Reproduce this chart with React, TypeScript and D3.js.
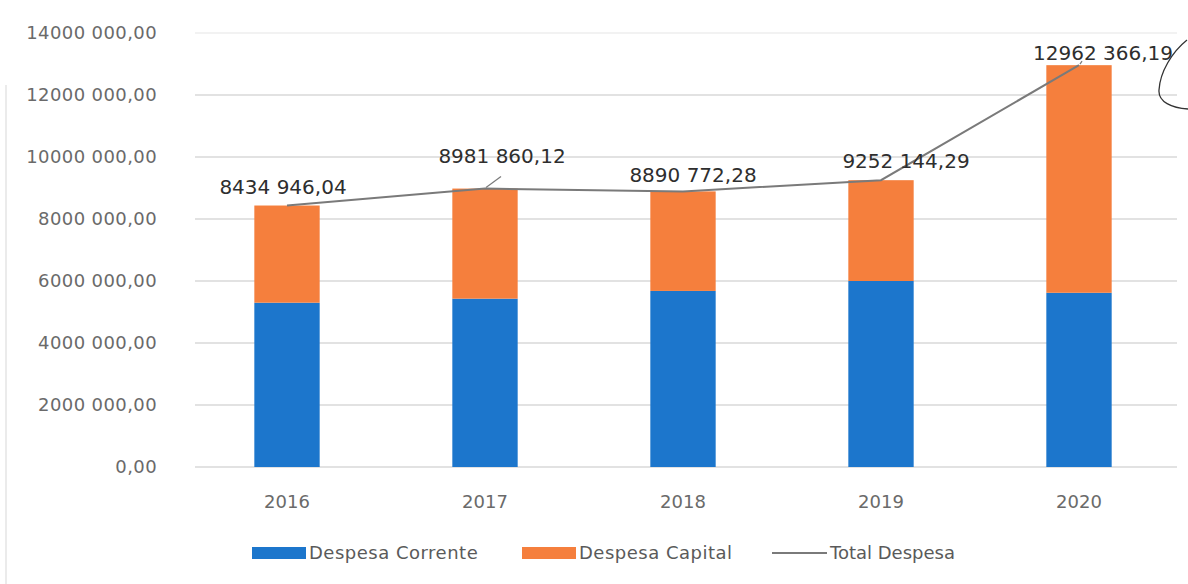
import * as d3 from 'd3';

// ── Data ─────────────────────────────────────────────
const years = ['2016', '2017', '2018', '2019', '2020'];
const corrente = [5300000, 5430000, 5680000, 6000000, 5620000];
const capital = [3134946.04, 3551860.12, 3210772.28, 3252144.29, 7342366.19];
const totals = [8434946.04, 8981860.12, 8890772.28, 9252144.29, 12962366.19];
const yTicks = [0, 2000000, 4000000, 6000000, 8000000, 10000000, 12000000, 14000000];
const legendItems = ['Despesa Corrente', 'Despesa Capital', 'Total Despesa'];

// label offset from its point (dx, baseline dy) and optional leader end (lx, ly)
const LABEL_OFF: [number, number, number[] | null][] = [
  [-4, -12, null],
  [17, -26, [16, -12]],
  [10, -9, null],
  [25, -12, null],
  [24, -5, [3, -4]],
];

const W = 1188;
const H = 584;
const BLUE = '#1c76cc';
const ORANGE = '#f57f3d';
const LINE = '#7a7a7a';
const FONT = '"DejaVu Sans", sans-serif';

// "8434 946,04" style: only the last thousands group split off
const fmt = (v: number) => {
  const cents = Math.round(v * 100) % 100;
  const int = Math.floor(v + 1e-6);
  const hi = Math.floor(int / 1000);
  const lo = int % 1000;
  const c = String(cents).padStart(2, '0');
  return hi > 0 ? `${hi} ${String(lo).padStart(3, '0')},${c}` : `${lo},${c}`;
};

export default function App() {
  const x = d3.scaleBand<string>().domain(years).range([188, 1178]).paddingInner(0.67).paddingOuter(0.335);
  const y = d3.scaleLinear().domain([0, 14000000]).range([467, 33]);
  const bw = x.bandwidth();
  const cx = (i: number) => (x(years[i]) ?? 0) + bw / 2;

  const line = d3.line<number>()
    .x((_, i) => cx(i))
    .y(d => y(d));

  return (
    <svg width={W} height={H} style={{ position: 'fixed', left: 0, top: 0, background: '#fff' }}>
      <rect x={0} y={0} width={W} height={H} fill="#fff" />
      {/* faint page edge */}
      <line x1={6} x2={6} y1={85} y2={H} stroke="#e4e4e4" strokeWidth={1.5} />

      {/* grid + y labels */}
      {yTicks.map(t => (
        <g key={t}>
          <line x1={195} x2={1177} y1={y(t)} y2={y(t)} stroke={t === 14000000 ? '#eeeeee' : '#d9d9d9'} strokeWidth={1.5} />
          <text x={157} y={y(t)} dy="0.36em" textAnchor="end" fontFamily={FONT} fontSize={18} letterSpacing={0.4} fill="#6a6a6a">
            {fmt(t)}
          </text>
        </g>
      ))}

      {/* stacked bars */}
      {years.map((yr, i) => (
        <g key={yr}>
          <rect x={x(yr)} y={y(corrente[i])} width={bw} height={y(0) - y(corrente[i])} fill={BLUE} />
          <rect x={x(yr)} y={y(corrente[i] + capital[i])} width={bw} height={y(corrente[i]) - y(corrente[i] + capital[i])} fill={ORANGE} />
          <text x={cx(i)} y={502} dy="0.36em" textAnchor="middle" fontFamily={FONT} fontSize={18} fill="#6a6a6a">{yr}</text>
        </g>
      ))}

      {/* total line */}
      <path d={line(totals) ?? ''} fill="none" stroke={LINE} strokeWidth={2} />

      {/* data labels */}
      {totals.map((v, i) => {
        const [dx, dy, leader] = LABEL_OFF[i];
        const px = cx(i);
        const py = y(v);
        return (
          <g key={i}>
            {leader && (
              <line x1={px + 1} y1={py - 1} x2={px + leader[0]} y2={py + leader[1]} stroke={LINE} strokeWidth={1.2} />
            )}
            <text x={px + dx} y={py + dy} textAnchor="middle" fontFamily={FONT} fontSize={20} fill="#2e2e2e">
              {fmt(v)}
            </text>
          </g>
        );
      })}

      {/* legend */}
      <g fontFamily={FONT} fontSize={18} letterSpacing={0.5} fill="#5a5a5a">
        <rect x={252} y={547} width={54} height={12} fill={BLUE} />
        <text x={309} y={553} dy="0.36em">{legendItems[0]}</text>
        <rect x={522} y={547} width={54} height={12} fill={ORANGE} />
        <text x={579} y={553} dy="0.36em">{legendItems[1]}</text>
        <line x1={772} x2={827} y1={553} y2={553} stroke={LINE} strokeWidth={2} />
        <text x={830} y={553} dy="0.36em" letterSpacing={0}>{legendItems[2]}</text>
      </g>

      {/* pen mark in the corner */}
      <path d="M1187,40 C1172,52 1160,72 1159,90 C1158,102 1172,108 1188,109" fill="none" stroke="#333" strokeWidth={1.3} />
    </svg>
  );
}
